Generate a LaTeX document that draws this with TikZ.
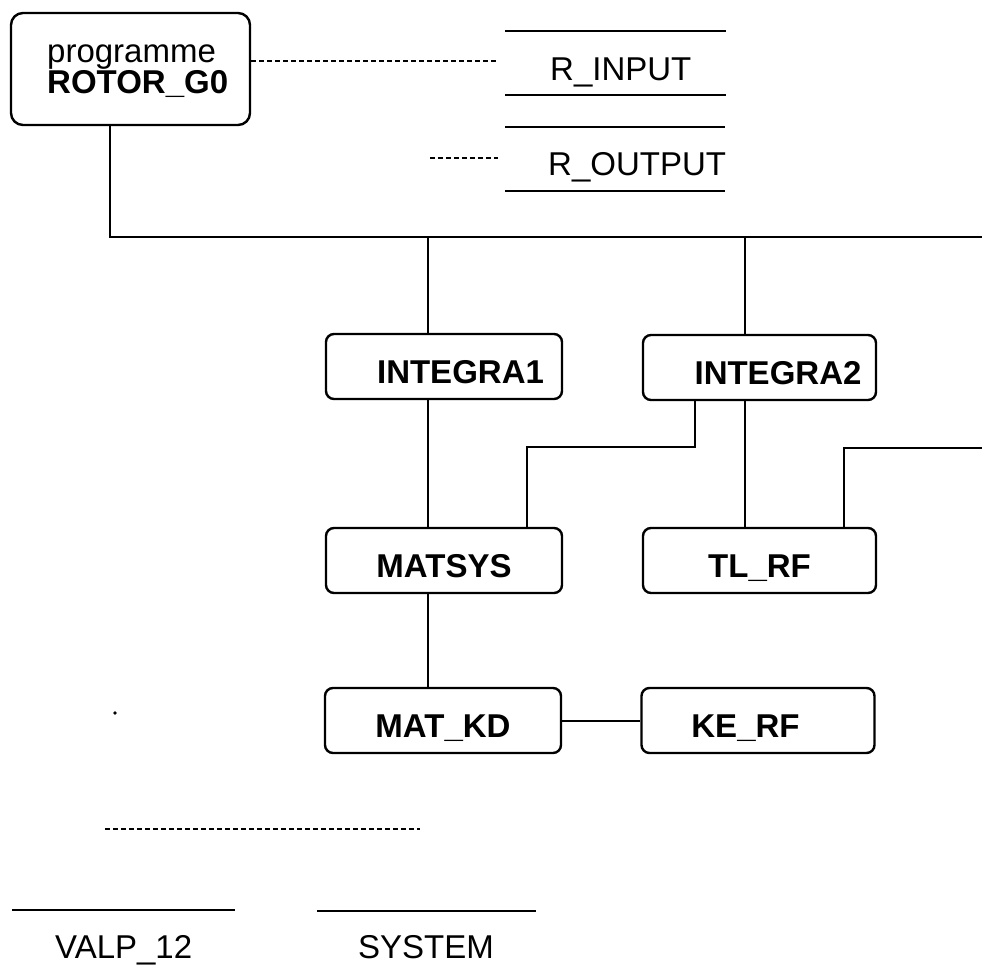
\documentclass[tikz,border=0pt]{standalone}
\usepackage{fontspec}
\setmainfont{Liberation Sans}
\begin{document}
\begin{tikzpicture}[x=1pt,y=-1pt,
  font=\fontsize{33}{40}\selectfont,
  box/.style={draw, line width=2.4pt, rounded corners=8pt, minimum height=65pt, inner sep=0pt,
              text height=33pt, text depth=0pt, font=\fontsize{33}{40}\selectfont\bfseries},
  lbox/.style={box, minimum width=236pt},
  rbox/.style={box, minimum width=233pt},
  wire/.style={line width=2pt},
  dots/.style={line width=1.2pt, dash pattern=on 5pt off 3pt},
  rulel/.style={line width=1.5pt},
  txt/.style={anchor=base west, inner sep=0pt}]
\useasboundingbox (0,0) rectangle (982,972);

% main program box
\node[draw, line width=2.4pt, rounded corners=12pt, minimum width=239pt, minimum height=112pt, inner sep=0pt] (rotor) at (130.5,69) {};
\node[txt] (rotorA) at (47,62) {programme};
\node[txt, font=\fontsize{33}{40}\selectfont\bfseries] (rotorB) at (47,93) {ROTOR\_G0};

% data stores
\node[txt] (rin) at (550,80) {R\_INPUT};
\draw[rulel] (505,31) -- (726,31) (505,95) -- (726,95);
\node[txt] (rout) at (548,175) {R\_OUTPUT};
\draw[rulel] (505,127) -- (725,127) (505,191) -- (725,191);

\coordinate (d1) at (498,61);
\draw[dots] (rotor.east |- d1) -- (d1);
\coordinate (d2a) at (430,158);
\coordinate (d2b) at (498,158);
\draw[dots] (d2a) -- (d2b);

% subroutine boxes
\node[lbox] (i1) at (444,366.5) {\hspace*{33pt}INTEGRA1};
\node[rbox] (i2) at (759.5,367.5) {\hspace*{37pt}INTEGRA2};
\node[lbox] (ms) at (444,560.5) {MATSYS};
\node[rbox] (tl) at (759.5,560.5) {TL\_RF};
\node[lbox] (kd) at (443,720.5) {MAT\_KD};
\node[rbox] (ke) at (758,720.5) {KE\_RF\hspace*{25pt}};

% connectors
\coordinate (busL) at (110,237);
\coordinate (busR) at (982,237);
\coordinate (j1) at (428,237);
\coordinate (j2) at (745,237);
\draw[wire] (rotor.south -| busL) -- (busL) -- (busR);
\draw[wire] (j1) -- (i1.north -| j1);
\draw[wire] (j2) -- (i2.north -| j2);
\draw[wire] (i1.south -| j1) -- (ms.north -| j1);
\draw[wire] (ms.south -| j1) -- (kd.north -| j1);
\draw[wire] (i2.south -| j2) -- (tl.north -| j2);
\coordinate (k1) at (695,447);
\coordinate (k2) at (527,447);
\draw[wire] (i2.south -| k1) -- (k1) -- (k2) -- (ms.north -| k2);
\coordinate (t1) at (844,448);
\coordinate (tR) at (982,448);
\draw[wire] (tl.north -| t1) -- (t1) -- (tR);
\draw[wire] (kd.east) -- (ke.west);

% bottom part
\fill (115,713) circle (1.8pt);
\draw[dots] (105,829) -- (420,829);
\draw[rulel] (12,910) -- (235,910);
\draw[rulel] (317,911) -- (536,911);
\node[txt] (valp) at (55,958) {VALP\_12};
\node[txt] (sys) at (358,958) {SYSTEM};
\end{tikzpicture}
\end{document}
